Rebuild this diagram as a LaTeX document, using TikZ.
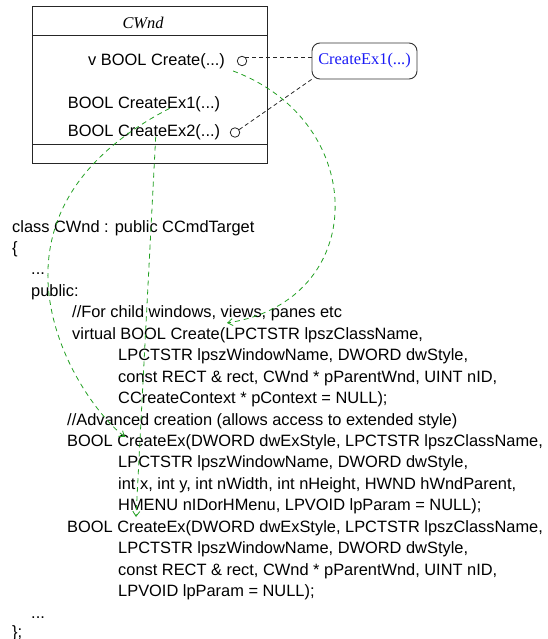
\documentclass[tikz,border=0pt]{standalone}
\usepackage{fontspec}
\setmainfont{Liberation Sans}
\newfontfamily\timesfont{Liberation Serif}
\usetikzlibrary{arrows.meta}
\definecolor{usegreen}{RGB}{34,160,34}
\definecolor{noteblue}{RGB}{25,25,245}
\newcommand\codefont{\fontsize{16.4pt}{21.45pt}\selectfont}
\newcommand\notefont{\timesfont\fontsize{16.4pt}{20pt}\selectfont}
\tikzset{
  code/.style={anchor=base west, inner sep=0pt, font=\codefont},
  frame/.style={draw=black!85, line width=0.9pt},
  port/.style={circle, draw=black!85, line width=0.8pt, minimum size=9.5pt, inner sep=0pt},
  link/.style={draw=black!85, line width=0.8pt, dash pattern=on 4pt off 3pt},
  uses/.style={draw=usegreen, line width=0.8pt, dash pattern=on 5pt off 4pt,
    -{Straight Barb[length=5pt,width=7pt]}},
  note/.style={draw=black!80, line width=0.9pt, rounded corners=8pt,
    minimum width=105pt, minimum height=36pt, inner sep=0pt,
    font=\notefont, text=noteblue},
}
\begin{document}
\begin{tikzpicture}[x=1pt, y=-1pt]
\useasboundingbox (0,0) rectangle (547,639);

% class box with its compartments
\node[frame, minimum width=234.5pt, minimum height=157pt, inner sep=0pt] (cls) at (149.75,84.5) {};
\draw[frame] (cls.west |- 0,35) -- (cls.east |- 0,35);
\draw[frame] (cls.west |- 0,144) -- (cls.east |- 0,144);
\node[font=\notefont\itshape, inner sep=0pt] (title) at (143,22.5) {CWnd};

% members
\node[code] (mcreate) at (88,65.7) {v BOOL Create(...)};
\node[code] (mex1) at (67.7,108.3) {BOOL CreateEx1(...)};
\node[code] (mex2) at (67.7,136.7) {BOOL CreateEx2(...)};
\node[port] (c1) at (242,61) {};
\node[port] (c2) at (235,132.5) {};

% note
\node[note] (ex1) at (364.5,61) {CreateEx1(...)};
\draw[link] (c1.50) -- (ex1.west |- c1.50);
\draw[link] (c2) -- (ex1.south west);

% source listing
\node[code] (l0)  at (12,232)     {class CWnd : public CCmdTarget};
\node[code] (l1)  at (12,253.45)  {\{};
\node[code] (l2)  at (31,274.9)   {...};
\node[code] (l3)  at (31,296.35)  {public:};
\node[code] (l4)  at (72,317.8)   {//For child windows, views, panes etc};
\node[code] (l5)  at (72,339.25)  {virtual BOOL Create(LPCTSTR lpszClassName,};
\node[code] (l6)  at (118,360.7)  {LPCTSTR lpszWindowName, DWORD dwStyle,};
\node[code] (l7)  at (118,382.15) {const RECT \& rect, CWnd * pParentWnd, UINT nID,};
\node[code] (l8)  at (118,403.6)  {CCreateContext * pContext = NULL);};
\node[code] (l9)  at (67,425.05)  {//Advanced creation (allows access to extended style)};
\node[code] (l10) at (67,446.5)   {BOOL CreateEx(DWORD dwExStyle, LPCTSTR lpszClassName,};
\node[code] (l11) at (118,467.95) {LPCTSTR lpszWindowName, DWORD dwStyle,};
\node[code] (l12) at (118,489.4)  {int x, int y, int nWidth, int nHeight, HWND hWndParent,};
\node[code] (l13) at (118,510.85) {HMENU nIDorHMenu, LPVOID lpParam = NULL);};
\node[code] (l14) at (67,532.3)   {BOOL CreateEx(DWORD dwExStyle, LPCTSTR lpszClassName,};
\node[code] (l15) at (118,553.75) {LPCTSTR lpszWindowName, DWORD dwStyle,};
\node[code] (l16) at (118,575.2)  {const RECT \& rect, CWnd * pParentWnd, UINT nID,};
\node[code] (l17) at (118,596.65) {LPVOID lpParam = NULL);};
\node[code] (l18) at (31,618.1)   {...};
\node[code] (l19) at (12,637)     {\};};

% member -> declaration links
\draw[uses] ([xshift=8pt,yshift=-5.3pt]mcreate.base east)
  .. controls (370,122) and (370,301) .. ([xshift=155pt,yshift=16.3pt]l5.base west);
\draw[uses] ([xshift=102pt]mex1.base west)
  .. controls (-42,218) and (76.6,400) .. ([xshift=58pt,yshift=9.5pt]l10.base west);
\draw[uses] ([xshift=88pt]mex2.base west) -- ([xshift=69pt,yshift=15.3pt]l14.base west);
\end{tikzpicture}
\end{document}
